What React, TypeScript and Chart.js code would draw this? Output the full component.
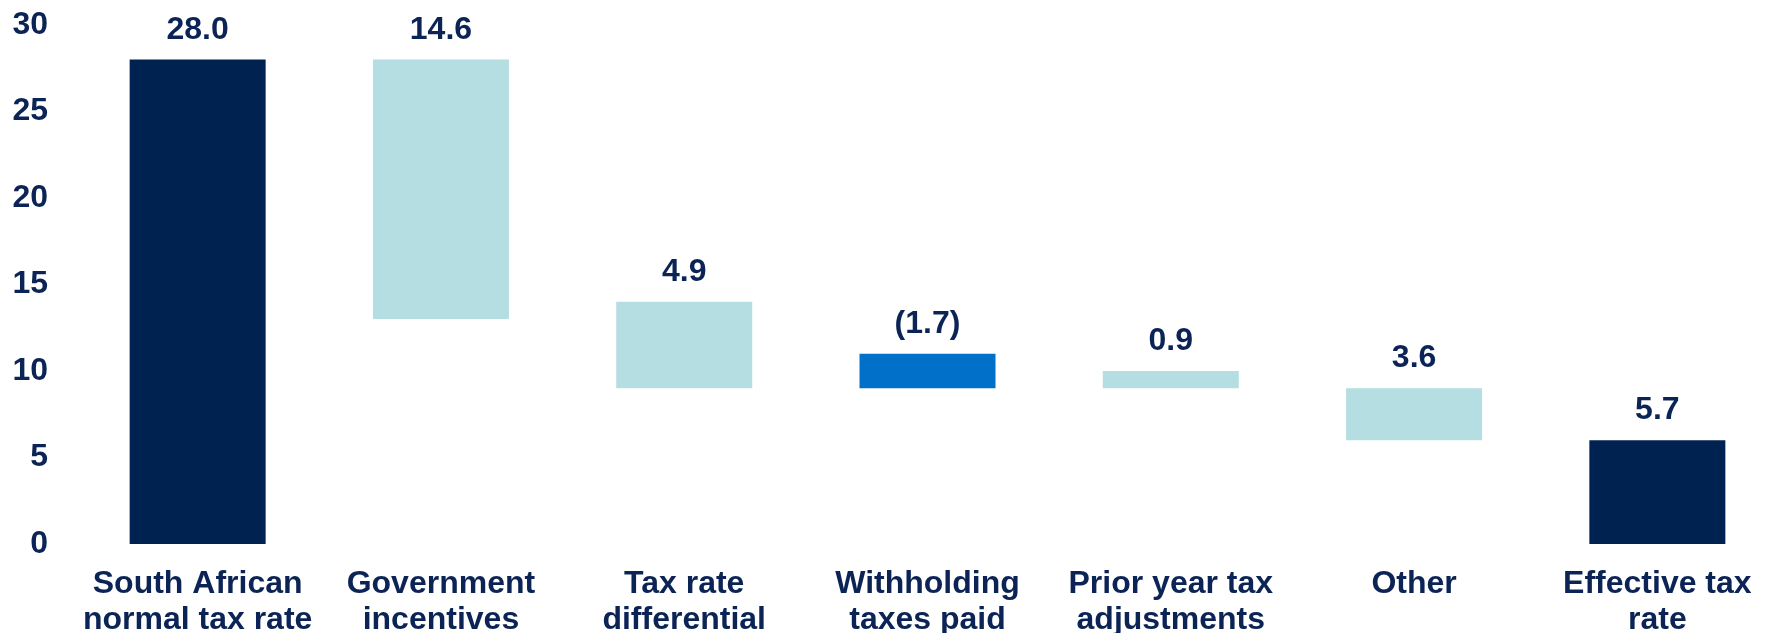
import React, { useEffect, useRef } from "react";
import { Chart, registerables } from "chart.js";

Chart.register(...registerables);

const categories: string[][] = [
  ["South African", "normal tax rate"],
  ["Government", "incentives"],
  ["Tax rate", "differential"],
  ["Withholding", "taxes paid"],
  ["Prior year tax", "adjustments"],
  ["Other"],
  ["Effective tax", "rate"],
];
const barStart: number[] = [0, 13, 9, 9, 9, 6, 0];
const barEnd: number[] = [28, 28, 14, 11, 10, 9, 6];
const valueLabels: string[] = ["28.0", "14.6", "4.9", "(1.7)", "0.9", "3.6", "5.7"];
const barKinds: string[] = ["total", "step", "step", "negative", "step", "step", "total"];
const yTicks: number[] = [0, 5, 10, 15, 20, 25, 30];

const NAVY = "#002251";
const LIGHT = "#B4DEE1";
const BLUE = "#0070C8";
const TEXT = "#0B2455";
const FONT = "'Liberation Sans', Arial, sans-serif";

const colorFor = (k: string) => (k === "total" ? NAVY : k === "negative" ? BLUE : LIGHT);

const valueLabelPlugin = {
  id: "valueLabels",
  afterDatasetsDraw(chart: any) {
    const ctx = chart.ctx;
    const meta = chart.getDatasetMeta(0);
    ctx.save();
    ctx.font = `bold 32px ${FONT}`;
    ctx.fillStyle = TEXT;
    ctx.textAlign = "center";
    ctx.textBaseline = "alphabetic";
    meta.data.forEach((el: any, i: number) => {
      const top = Math.min(el.y, el.base);
      ctx.fillText(valueLabels[i], el.x, top - 21);
    });
    ctx.restore();
  },
};

export default function App() {
  const ref = useRef<HTMLCanvasElement | null>(null);
  useEffect(() => {
    document.body.style.overflow = "hidden";
    if (!ref.current) return;
    const chart = new Chart(ref.current, {
      type: "bar",
      data: {
        labels: categories as any,
        datasets: [
          {
            data: barStart.map((s, i) => [s, barEnd[i]]) as any,
            backgroundColor: barKinds.map(colorFor),
            borderWidth: 0,
            categoryPercentage: 1,
            barPercentage: 0.559,
          },
        ],
      },
      options: {
        animation: false,
        responsive: false,
        devicePixelRatio: 1,
        layout: { padding: { left: 0, right: 0, top: 25, bottom: 0 } },
        plugins: { legend: { display: false }, tooltip: { enabled: false } },
        scales: {
          x: {
            afterFit: (scale: any) => {
              scale.height = 89;
            },
            grid: { display: false, drawTicks: false },
            border: { display: false },
            ticks: {
              color: TEXT,
              font: { family: FONT, size: 32, weight: "bold", lineHeight: 1.12 },
              padding: 22,
              maxRotation: 0,
              autoSkip: false,
            },
          },
          y: {
            min: 0,
            max: 30,
            afterFit: (scale: any) => {
              scale.width = 76;
              scale.paddingTop = 0;
              scale.paddingBottom = 0;
            },
            afterBuildTicks: (scale: any) => {
              scale.ticks = yTicks.map((v) => ({ value: v }));
            },
            grid: { display: false, drawTicks: false },
            border: { display: false },
            ticks: {
              color: TEXT,
              font: { family: FONT, size: 32, weight: "bold" },
              padding: 28,
            },
          },
        },
      },
      plugins: [valueLabelPlugin],
    });
    return () => chart.destroy();
  }, []);
  return (
    <div style={{ position: "absolute", left: 0, top: 0, width: 1766, height: 633, overflow: "hidden" }}>
      <canvas ref={ref} width={1779} height={633} style={{ display: "block" }} />
    </div>
  );
}
